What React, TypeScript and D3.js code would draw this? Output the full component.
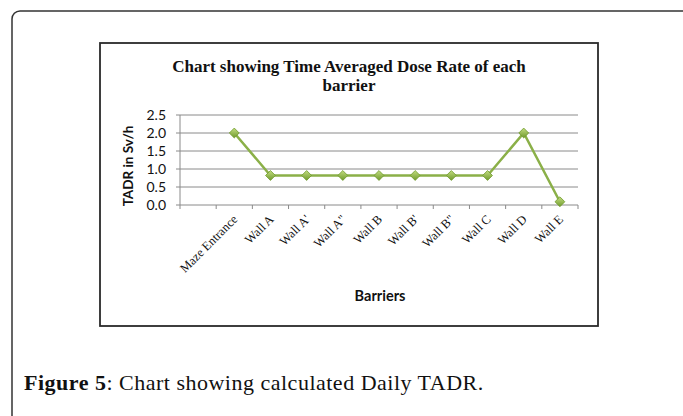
import * as d3 from "d3";
import { useEffect, useRef } from "react";

// first slot is empty in the source sheet
const barriers = [
    "",
    "Maze Entrance",
    "Wall A",
    "Wall A'",
    'Wall A"',
    "Wall B",
    "Wall B'",
    'Wall B"',
    "Wall C",
    "Wall D",
    "Wall E",
];
const tadr = [null, 2.0, 0.82, 0.82, 0.82, 0.82, 0.82, 0.82, 0.82, 2.0, 0.09];
const yTicks = [0, 0.5, 1.0, 1.5, 2.0, 2.5];

export default function App() {
    const ref = useRef<SVGSVGElement | null>(null);

    useEffect(() => {
        if (!ref.current) return;
        const svg = d3.select(ref.current);
        svg.selectAll("*").remove();

        const width = 683;
        const height = 416;
        svg.attr("width", width).attr("height", height);

        // outer rounded frame, runs off the right and bottom
        svg.append("rect")
            .attr("x", 12)
            .attr("y", 11)
            .attr("width", 720)
            .attr("height", 460)
            .attr("rx", 8)
            .attr("fill", "white")
            .attr("stroke", "#333")
            .attr("stroke-width", 1.5);

        // chart box
        svg.append("rect")
            .attr("x", 100)
            .attr("y", 43)
            .attr("width", 498)
            .attr("height", 283)
            .attr("fill", "white")
            .attr("stroke", "#2a2a2a")
            .attr("stroke-width", 1.8);

        const plot = { left: 180, right: 578, top: 115, bottom: 205 };

        const x = d3
            .scaleBand()
            .domain(barriers.map((_, i) => String(i)))
            .range([plot.left, plot.right]);
        const y = d3
            .scaleLinear()
            .domain([0, 2.5])
            .range([plot.bottom, plot.top]);
        const cx = (i: number) => x(String(i))! + x.bandwidth() / 2;

        const g = svg.append("g");

        // gridlines
        g.selectAll(".grid")
            .data(yTicks)
            .enter()
            .append("line")
            .attr("x1", plot.left - 4)
            .attr("x2", plot.right)
            .attr("y1", (d) => y(d))
            .attr("y2", (d) => y(d))
            .attr("stroke", "#8a8a8a")
            .attr("stroke-width", 1);

        // y axis line
        g.append("line")
            .attr("x1", plot.left)
            .attr("x2", plot.left)
            .attr("y1", plot.top)
            .attr("y2", plot.bottom)
            .attr("stroke", "#8a8a8a");

        // y tick labels
        g.selectAll(".ylab")
            .data(yTicks)
            .enter()
            .append("text")
            .attr("x", plot.left - 14)
            .attr("y", (d) => y(d))
            .attr("dy", "0.36em")
            .attr("text-anchor", "end")
            .attr("font-family", "Lato, sans-serif")
            .attr("font-size", 14)
            .attr("fill", "#111")
            .text((d) => d3.format(".1f")(d));

        // x ticks at band boundaries
        const bounds = barriers.map((_, i) => x(String(i))!).concat([plot.right]);
        g.selectAll(".xtick")
            .data(bounds)
            .enter()
            .append("line")
            .attr("x1", (d) => d)
            .attr("x2", (d) => d)
            .attr("y1", plot.bottom)
            .attr("y2", plot.bottom + 4)
            .attr("stroke", "#8a8a8a");

        // x labels, rotated
        g.selectAll(".xlab")
            .data(barriers)
            .enter()
            .append("text")
            .attr(
                "transform",
                (_, i) => `translate(${cx(i) + 4},${plot.bottom + 15}) rotate(-45)`,
            )
            .attr("text-anchor", "end")
            .attr("font-family", "Liberation Serif, serif")
            .attr("font-size", 12.5)
            .attr("fill", "#111")
            .text((d) => d);

        // series line
        const pts = tadr
            .map((v, i) => ({ i, v }))
            .filter((d) => d.v !== null) as { i: number; v: number }[];
        const line = d3
            .line<{ i: number; v: number }>()
            .x((d) => cx(d.i))
            .y((d) => y(d.v));

        g.append("path")
            .datum(pts)
            .attr("fill", "none")
            .attr("stroke", "#8bb048")
            .attr("stroke-width", 2.5)
            .attr("d", line);

        const grad = svg
            .append("defs")
            .append("linearGradient")
            .attr("id", "mk")
            .attr("x1", "0")
            .attr("y1", "0")
            .attr("x2", "0")
            .attr("y2", "1");
        grad.append("stop").attr("offset", "0%").attr("stop-color", "#c3dd80");
        grad.append("stop").attr("offset", "100%").attr("stop-color", "#6f9a2c");

        const diamond = d3.symbol().type(d3.symbolDiamond2).size(62);
        g.selectAll(".mk")
            .data(pts)
            .enter()
            .append("path")
            .attr("d", diamond)
            .attr("transform", (d) => `translate(${cx(d.i)},${y(d.v)})`)
            .attr("fill", "url(#mk)")
            .attr("stroke", "#6f9a2c")
            .attr("stroke-width", 0.8);

        // titles
        const title = svg
            .append("text")
            .attr("text-anchor", "middle")
            .attr("font-family", "Liberation Serif, serif")
            .attr("font-weight", "bold")
            .attr("font-size", 17)
            .attr("fill", "#111");
        title.append("tspan").attr("x", 349).attr("y", 72).text("Chart showing Time Averaged Dose Rate of each");
        title.append("tspan").attr("x", 349).attr("y", 91).text("barrier");

        svg.append("text")
            .attr("transform", `translate(133,166) rotate(-90)`)
            .attr("text-anchor", "middle")
            .attr("font-family", "Lato, sans-serif")
            .attr("font-weight", "bold")
            .attr("font-size", 13.5)
            .attr("fill", "#111")
            .text("TADR in Sv/h");

        svg.append("text")
            .attr("x", 380)
            .attr("y", 301)
            .attr("text-anchor", "middle")
            .attr("font-family", "Lato, sans-serif")
            .attr("font-weight", "bold")
            .attr("font-size", 14.5)
            .attr("fill", "#111")
            .text("Barriers");

        // caption
        const cap = svg
            .append("text")
            .attr("x", 24)
            .attr("y", 390)
            .attr("font-family", "Liberation Serif, serif")
            .attr("font-size", 22)
            .attr("letter-spacing", 0.5)
            .attr("fill", "#111");
        cap.append("tspan").attr("font-weight", "bold").text("Figure 5");
        cap.append("tspan").text(": Chart showing calculated Daily TADR.");
    }, []);

    return (
        <svg
            ref={ref}
            style={{ position: "absolute", left: 0, top: 0, display: "block" }}
        ></svg>
    );
}
